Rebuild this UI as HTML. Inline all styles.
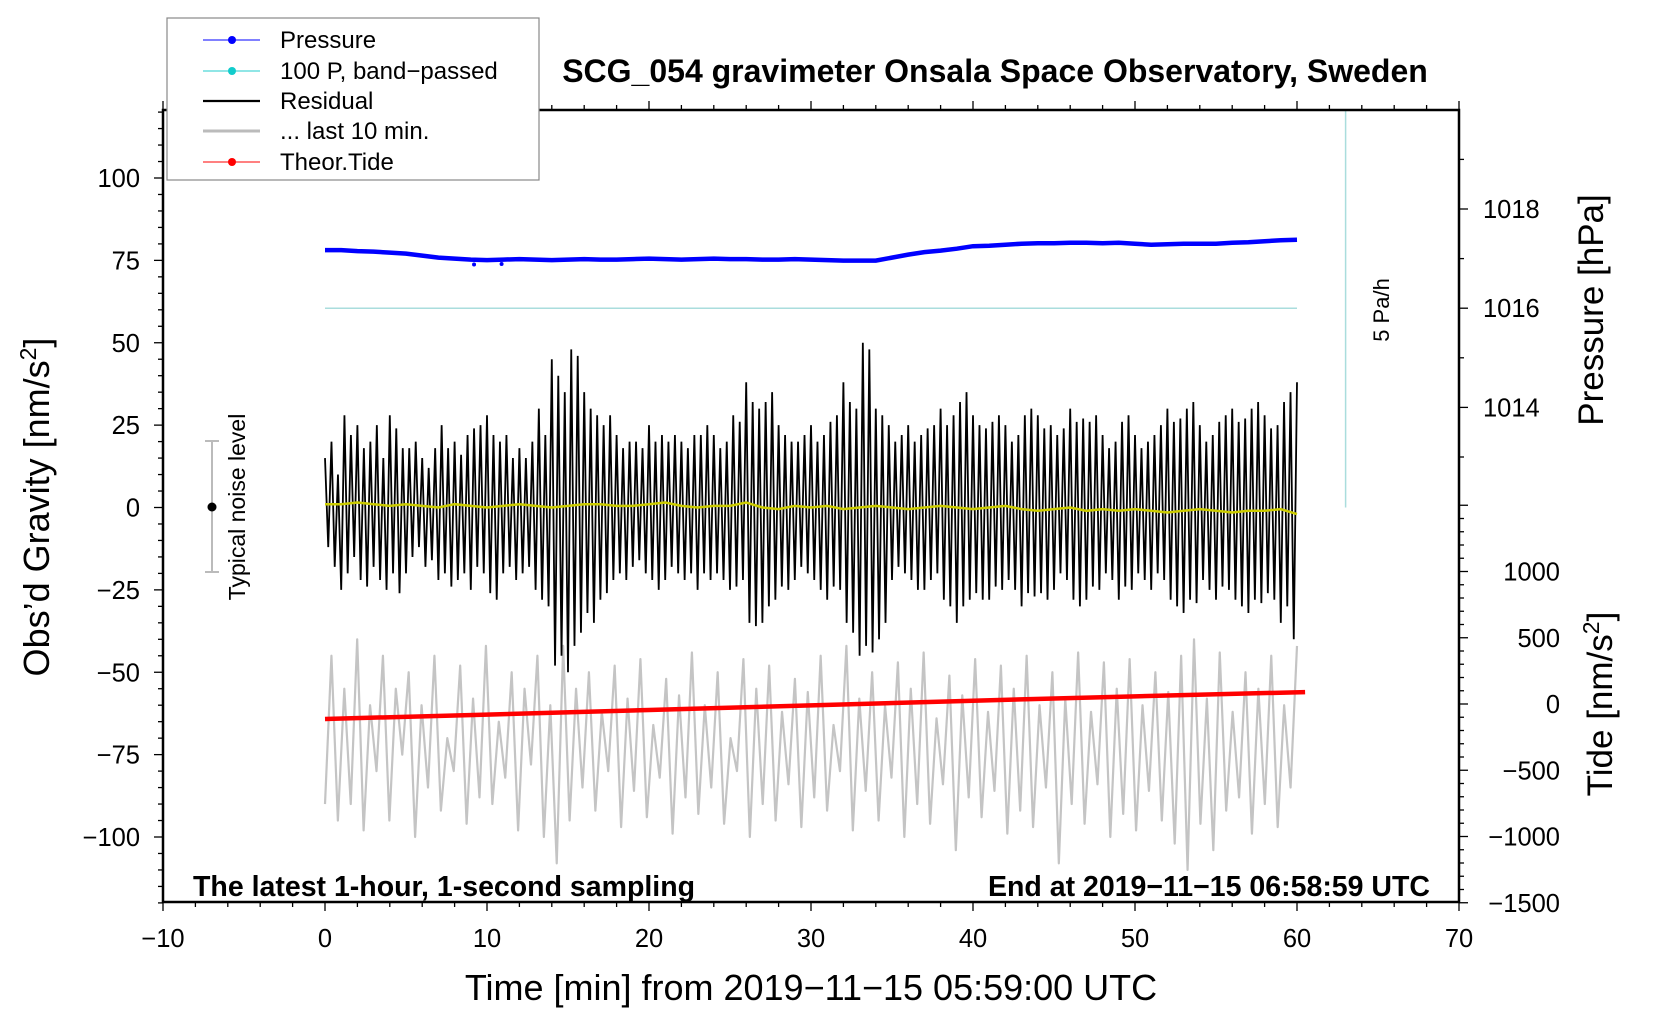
<!DOCTYPE html>
<html><head><meta charset="utf-8"><style>
html,body{margin:0;padding:0;background:#fff;}
svg{display:block;font-family:"Liberation Sans",Arial,sans-serif;}
</style></head><body>
<svg id="chart" width="1660" height="1020" viewBox="0 0 1660 1020" xmlns="http://www.w3.org/2000/svg">
<rect width="1660" height="1020" fill="#fff"/>
<g id="marks"></g>
<g id="axes"></g>
<text x="995" y="82" font-size="32" font-weight="bold" text-anchor="middle">SCG_054 gravimeter Onsala Space Observatory, Sweden</text>
<text x="193" y="896" font-size="28.5" font-weight="bold">The latest 1-hour, 1-second sampling</text>
<text x="1430" y="896" font-size="28.5" font-weight="bold" text-anchor="end">End at 2019−11−15 06:58:59 UTC</text>
<text x="811" y="1000" font-size="36" text-anchor="middle">Time [min] from 2019−11−15 05:59:00 UTC</text>
<text transform="translate(49,507) rotate(-90)" font-size="36" text-anchor="middle">Obs’d Gravity [nm/s<tspan dy="-13" font-size="23">2</tspan><tspan dy="13">]</tspan></text>
<text transform="translate(1603,310) rotate(-90)" font-size="35" text-anchor="middle">Pressure [hPa]</text>
<text transform="translate(1612,704) rotate(-90)" font-size="35" text-anchor="middle">Tide [nm/s<tspan dy="-13" font-size="23">2</tspan><tspan dy="13">]</tspan></text>
<text transform="translate(1389,310) rotate(-90)" font-size="22" text-anchor="middle">5 Pa/h</text>
<g>
<line x1="212" y1="441" x2="212" y2="572" stroke="#bbb" stroke-width="2"/>
<line x1="205" y1="441" x2="219" y2="441" stroke="#bbb" stroke-width="2"/>
<line x1="205" y1="572" x2="219" y2="572" stroke="#bbb" stroke-width="2"/>
<circle cx="212" cy="507" r="4.5" fill="#000"/>
<text transform="translate(245,507) rotate(-90)" font-size="23" text-anchor="middle">Typical noise level</text>
</g>
<g>
<rect x="167" y="18" width="372" height="162" fill="#fff" stroke="#888" stroke-width="1.2"/>
<g><line x1="203" y1="40" x2="260" y2="40" stroke="#00f" stroke-width="1"/><circle cx="232" cy="40" r="4" fill="#00f"/><text x="280" y="48" font-size="24">Pressure</text></g>
<g><line x1="203" y1="71" x2="260" y2="71" stroke="#2cc" stroke-width="1"/><circle cx="232" cy="71" r="4" fill="#1cc"/><text x="280" y="79" font-size="24">100 P, band−passed</text></g>
<g><line x1="203" y1="101" x2="260" y2="101" stroke="#000" stroke-width="2.2"/><text x="280" y="109" font-size="24">Residual</text></g>
<g><line x1="203" y1="131" x2="260" y2="131" stroke="#bbb" stroke-width="3"/><text x="280" y="139" font-size="24">... last 10 min.</text></g>
<g><line x1="203" y1="162" x2="260" y2="162" stroke="#f00" stroke-width="1"/><circle cx="232" cy="162" r="4" fill="#f00"/><text x="280" y="170" font-size="24">Theor.Tide</text></g>
</g>
</svg>
<script>
const xTicks=[-10,0,10,20,30,40,50,60,70];
const yTicks=[-100,-75,-50,-25,0,25,50,75,100];
const pTicks=[1014,1016,1018];
const tideTicks=[-1500,-1000,-500,0,500,1000];
const pressure=[1017.17,1017.17,1017.15,1017.14,1017.12,1017.10,1017.06,1017.02,1017.00,1016.98,1016.97,1016.98,1016.99,1016.98,1016.97,1016.98,1016.99,1016.98,1016.98,1016.99,1017.00,1016.99,1016.98,1016.99,1017.00,1016.99,1016.99,1016.98,1016.98,1016.99,1016.98,1016.97,1016.96,1016.96,1016.96,1017.02,1017.08,1017.13,1017.16,1017.20,1017.25,1017.26,1017.28,1017.30,1017.31,1017.31,1017.32,1017.32,1017.31,1017.32,1017.30,1017.28,1017.29,1017.30,1017.30,1017.30,1017.32,1017.33,1017.35,1017.37,1017.38];
const pressureOutliers=[[9.2,1016.88],[10.9,1016.89]];
const bandPassed=[1016,1016];
const bandPassedT=[0,60];
const residual=[15,-12,20,-18,10,-25,28,-20,22,-15,25,-22,18,-24,20,-18,25,-22,15,-25,28,-20,24,-26,18,-20,18,-15,20,-12,15,-18,12,-16,18,-22,25,-20,18,-24,20,-22,16,-20,22,-25,24,-18,25,-20,28,-26,22,-28,20,-20,22,-18,15,-22,18,-20,15,-18,20,-25,30,-28,22,-30,45,-48,40,-45,35,-50,48,-42,46,-38,35,-32,30,-35,28,-28,25,-26,28,-22,22,-20,18,-22,20,-18,20,-16,18,-20,25,-22,20,-25,22,-22,20,-18,22,-20,20,-22,18,-20,22,-25,22,-20,25,-22,22,-20,18,-22,20,-25,28,-24,26,-22,38,-35,32,-36,30,-35,32,-30,35,-28,25,-24,22,-25,20,-22,20,-18,22,-20,25,-22,20,-25,22,-28,26,-24,28,-25,38,-35,32,-38,30,-45,50,-42,48,-44,30,-40,28,-35,25,-22,20,-18,22,-20,25,-22,20,-25,22,-25,24,-22,25,-20,30,-28,25,-30,28,-35,32,-30,35,-28,28,-26,25,-28,24,-28,26,-24,28,-25,25,-22,20,-25,22,-30,28,-26,30,-27,28,-26,24,-28,25,-25,22,-20,24,-22,30,-28,26,-30,27,-28,26,-24,28,-25,22,-20,18,-22,20,-28,26,-24,28,-25,22,-20,18,-22,20,-25,22,-20,25,-22,30,-28,26,-30,27,-32,30,-28,32,-29,25,-22,20,-25,22,-28,26,-24,28,-25,30,-28,26,-30,27,-32,30,-28,32,-29,28,-26,24,-28,25,-35,32,-30,35,-40,38];
const smoothed=[1,1,1.5,1,0.5,1,0.5,0,1,0.5,0,0.5,1,0.5,0,0.5,1,1,0.5,0.5,1,1.5,0.5,0,0.5,0.5,1.5,0,-0.5,0.5,0,0.5,-0.5,0,0.5,0,-0.5,0,0.5,0,-0.5,0,0.5,-0.5,-1,-0.5,0,-1,-0.5,-1,-0.5,-1,-1.5,-1,-0.5,-1,-1.5,-1,-1,-0.5,-2];
const last10=[-90,-45,-95,-55,-90,-40,-98,-60,-80,-45,-95,-55,-75,-50,-100,-60,-85,-45,-92,-70,-80,-48,-96,-58,-88,-42,-90,-65,-82,-50,-98,-55,-78,-45,-100,-60,-108,-42,-95,-55,-85,-50,-92,-62,-80,-48,-97,-58,-86,-46,-94,-66,-82,-52,-99,-57,-88,-44,-93,-60,-85,-50,-96,-70,-80,-46,-100,-55,-90,-48,-95,-62,-84,-52,-97,-56,-88,-45,-92,-66,-80,-42,-98,-58,-86,-50,-95,-60,-82,-47,-100,-55,-90,-44,-96,-64,-84,-51,-104,-57,-88,-46,-94,-62,-86,-48,-99,-55,-92,-45,-97,-60,-85,-50,-108,-58,-90,-44,-96,-62,-84,-47,-100,-55,-93,-46,-98,-60,-86,-50,-95,-56,-102,-45,-110,-40,-96,-58,-104,-44,-92,-62,-88,-50,-99,-55,-90,-45,-97,-60,-85,-42];
const tideT=[0,10,20,30,40,50,60.5];
const tide=[-113,-80,-45,-10,25,58,90];

const L=163,R=1459,T=110,B=902;
const X=v=>L+(v+10)*(R-L)/80;
const Y=v=>507.5-v*3.295;
const P=v=>209+(1018-v)*49.6;
const TD=v=>704-v*0.1325;
const NS='http://www.w3.org/2000/svg';
const marks=document.getElementById('marks'), axes=document.getElementById('axes');
function mk(tag,attrs,parent){const e=document.createElementNS(NS,tag);for(const k in attrs)e.setAttribute(k,attrs[k]);parent.appendChild(e);return e;}
function series(vals,tfun,yfun){return vals.map((v,i)=>X(tfun(i)).toFixed(2)+','+yfun(v).toFixed(2)).join(' ');}

let e;
e=mk('polyline',{points:series(last10,i=>i*60/(last10.length-1),Y),fill:'none',stroke:'#c4c4c4','stroke-width':2.2,'stroke-linejoin':'round'},marks);


e=mk('polyline',{points:series(residual,i=>i*60/(residual.length-1),Y),fill:'none',stroke:'#000','stroke-width':1.8},marks);


e=mk('polyline',{points:series(smoothed,i=>i,Y),fill:'none',stroke:'#cc0','stroke-width':2.5},marks);


e=mk('polyline',{points:series(tide,i=>tideT[i],TD),fill:'none',stroke:'#f00','stroke-width':4.5},marks);


e=mk('polyline',{points:series(bandPassed,i=>bandPassedT[i],P),fill:'none',stroke:'#aadddd','stroke-width':1.5},marks);


e=mk('polyline',{points:series(pressure,i=>i,P),fill:'none',stroke:'#00f','stroke-width':4.5},marks);


pressureOutliers.forEach(o=>{const c=mk('circle',{cx:X(o[0]),cy:P(o[1]),r:2,fill:'#00f'},marks);

});
e=mk('line',{x1:X(63),x2:X(63),y1:T,y2:Y(0),stroke:'#aadddd','stroke-width':1.5},marks);



e=mk('rect',{x:L,y:T,width:R-L,height:B-T,fill:'none',stroke:'#000','stroke-width':2.5},axes);


for(let v=-10;v<=70;v+=2){const maj=v%10===0;const len=maj?9:5;
 mk('line',{x1:X(v),x2:X(v),y1:B,y2:B+len,stroke:'#000','stroke-width':1.3},axes);
 mk('line',{x1:X(v),x2:X(v),y1:T,y2:T-len,stroke:'#000','stroke-width':1.3},axes);}
xTicks.forEach(v=>{const t=mk('text',{x:X(v),y:947,'font-size':25.5,'text-anchor':'middle'},axes);t.textContent=String(v).replace('-','−');

});
for(let v=-120;v<=120;v+=5){const maj=v%25===0;const len=maj?9:5;
 mk('line',{x1:L,x2:L-len,y1:Y(v),y2:Y(v),stroke:'#000','stroke-width':1.3},axes);}
yTicks.forEach(v=>{const t=mk('text',{x:140,y:Y(v)+9,'font-size':25.5,'text-anchor':'end'},axes);t.textContent=String(v).replace('-','−');

});
for(let v=1013;v<=1019;v+=1){const maj=v%2===0;
 mk('line',{x1:R,x2:R+(maj?9:5),y1:P(v),y2:P(v),stroke:'#000','stroke-width':1.3},axes);}
pTicks.forEach(v=>{const t=mk('text',{x:1483,y:P(v)+9,'font-size':25.5},axes);t.textContent=v;

});
for(let v=-1500;v<=1500;v+=100){const maj=v%500===0;
 mk('line',{x1:R,x2:R+(maj?9:5),y1:TD(v),y2:TD(v),stroke:'#000','stroke-width':1.3},axes);}
tideTicks.forEach(v=>{const t=mk('text',{x:1560,y:TD(v)+9,'font-size':25.5,'text-anchor':'end'},axes);t.textContent=String(v).replace('-','−');

});
</script>
</body></html>
